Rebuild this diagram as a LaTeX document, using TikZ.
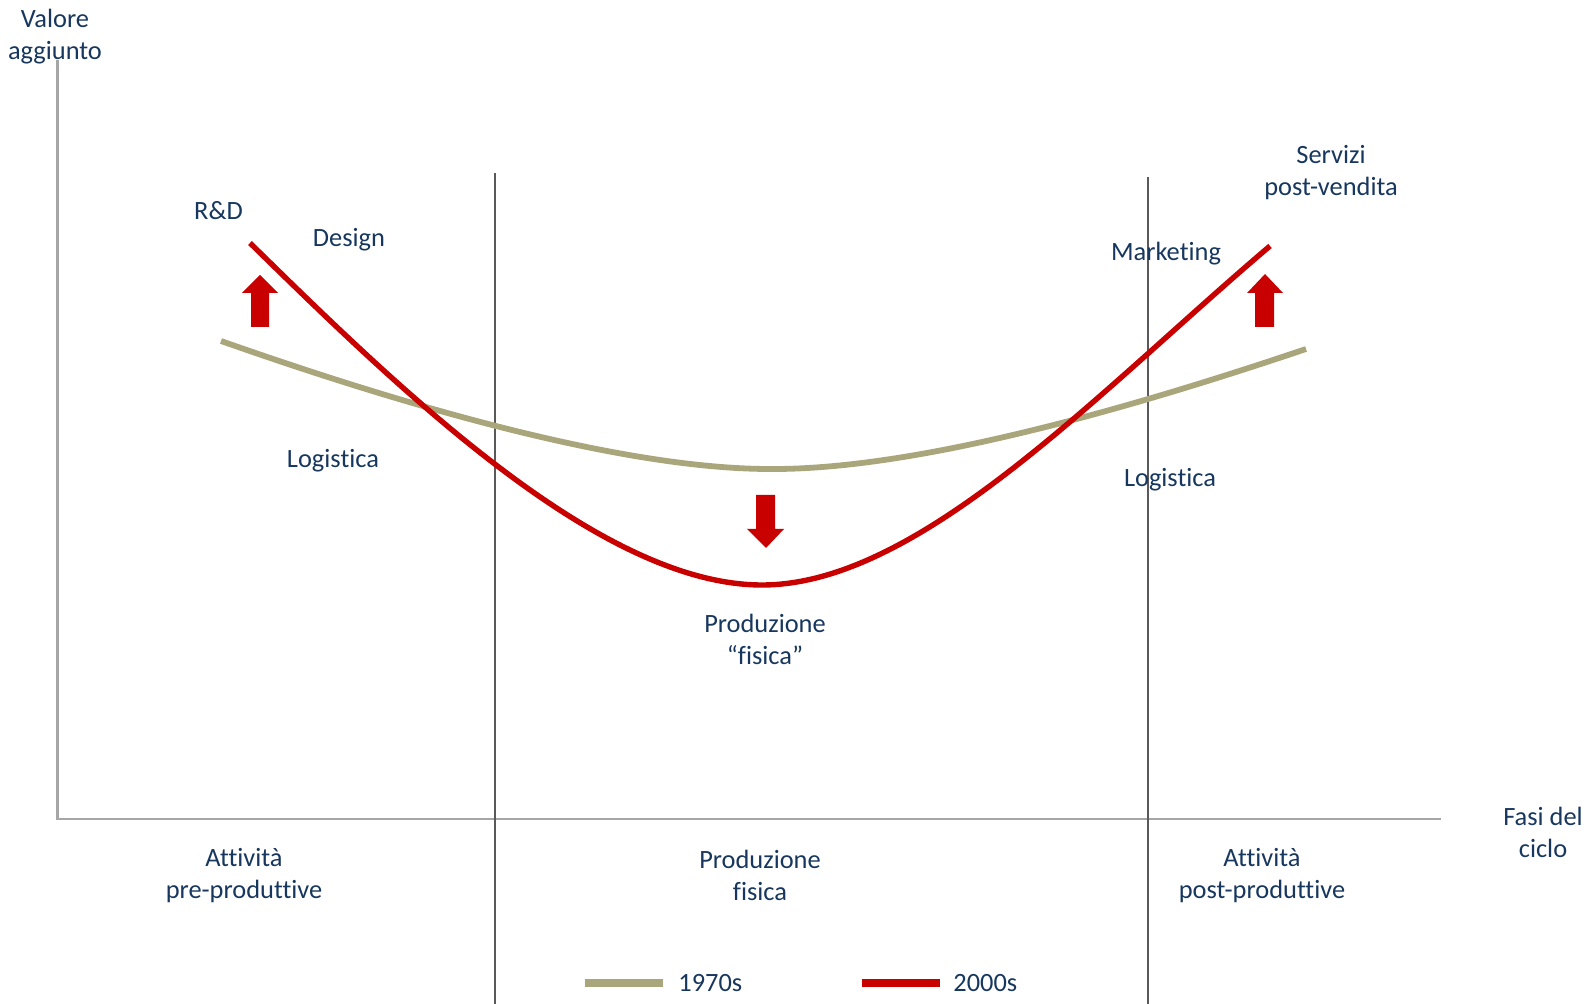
\documentclass[tikz,border=0pt]{standalone}
\usepackage{fontspec}
\setmainfont{Carlito}[Ligatures=NoCommon]
\definecolor{txtblue}{RGB}{23,55,94}
\definecolor{curvered}{RGB}{200,0,0}
\definecolor{curvetan}{RGB}{170,166,124}
\definecolor{axisgray}{RGB}{166,166,166}
\definecolor{divgray}{RGB}{89,89,89}
\tikzset{
  lbl/.style={inner sep=0pt, text=txtblue, align=center, font=\fontsize{13.2}{16}\selectfont},
  axisline/.style={draw=axisgray, line width=1.4pt},
  divline/.style={draw=divgray, line width=1pt},
  redcurve/.style={draw=curvered, line width=2.7pt},
  tancurve/.style={draw=curvetan, line width=2.9pt},
  legline/.style={line width=4pt},
  fatarrow/.style={fill=curvered, draw=none}
}
\begin{document}
\begin{tikzpicture}[x=0.5pt, y=-0.5pt]
\useasboundingbox (0,0) rectangle (1588,1004);
% axes
\coordinate (ytop) at (57.7,60);
\coordinate (orig) at (57.7,819);
\coordinate (xend) at (1441,819);
\draw[axisline] (ytop) -- (orig) -- (xend);
% dividers
\coordinate (d1t) at (495,173);
\coordinate (d1b) at (495,1004);
\coordinate (d2t) at (1147.5,177);
\coordinate (d2b) at (1147.5,1004);
\draw[divline] (d1t) -- (d1b);
\draw[divline] (d2t) -- (d2b);
% tan curve (1970s)
\coordinate (t0) at (221,341);
\coordinate (t1) at (770,469);
\coordinate (t2) at (1306,349);
\draw[tancurve] (t0) .. controls (400,404) and (620,469) .. (t1)
  .. controls (920,470) and (1140,405) .. (t2);
% red curve (2000s)
\coordinate (r0) at (250,243);
\coordinate (r1) at (762,585);
\coordinate (r2) at (1270,246);
\draw[redcurve] (r0) .. controls (400,390) and (600,585) .. (r1)
  .. controls (920,585) and (1100,390) .. (r2);
% block arrows
\fill[fatarrow] (251,327) -- (251,293) -- (242,293) -- (260,275) -- (278,293) -- (269,293) -- (269,327) -- cycle;
\fill[fatarrow] (1255,327) -- (1255,293) -- (1247,293) -- (1265,274) -- (1283,293) -- (1274,293) -- (1274,327) -- cycle;
\fill[fatarrow] (756,495) -- (756,529) -- (747,529) -- (766,548) -- (784,529) -- (775,529) -- (775,495) -- cycle;
% labels
\node[lbl] (valore) at (55,36.5) {Valore\\aggiunto};
\node[lbl] (rd) at (218.5,211) {R\&D};
\node[lbl] (design) at (349,239.5) {Design};
\node[lbl] (logl) at (333,460.5) {Logistica};
\node[lbl] (mkt) at (1166,253.5) {Marketing};
\node[lbl] (serv) at (1331,173) {Servizi\\post-vendita};
\node[lbl] (logr) at (1170,480) {Logistica};
\node[lbl] (prodf) at (765,639) {Produzione\\“fisica”};
\node[lbl] (pre) at (244,876) {Attività\\pre-produttive};
\node[lbl] (prod) at (760,875.5) {Produzione\\fisica};
\node[lbl] (post) at (1262,876) {Attività\\post-produttive};
\node[lbl] (fasi) at (1543,832.5) {Fasi del\\ciclo};
% legend
\coordinate (l1a) at (585,983);
\coordinate (l1b) at (663,983);
\coordinate (l2a) at (862,983);
\coordinate (l2b) at (940,983);
\draw[legline, draw=curvetan] (l1a) -- (l1b);
\draw[legline, draw=curvered] (l2a) -- (l2b);
\node[lbl, anchor=west] (leg1) at (678,983.5) {1970s};
\node[lbl, anchor=west] (leg2) at (953,983.5) {2000s};
\end{tikzpicture}
\end{document}
